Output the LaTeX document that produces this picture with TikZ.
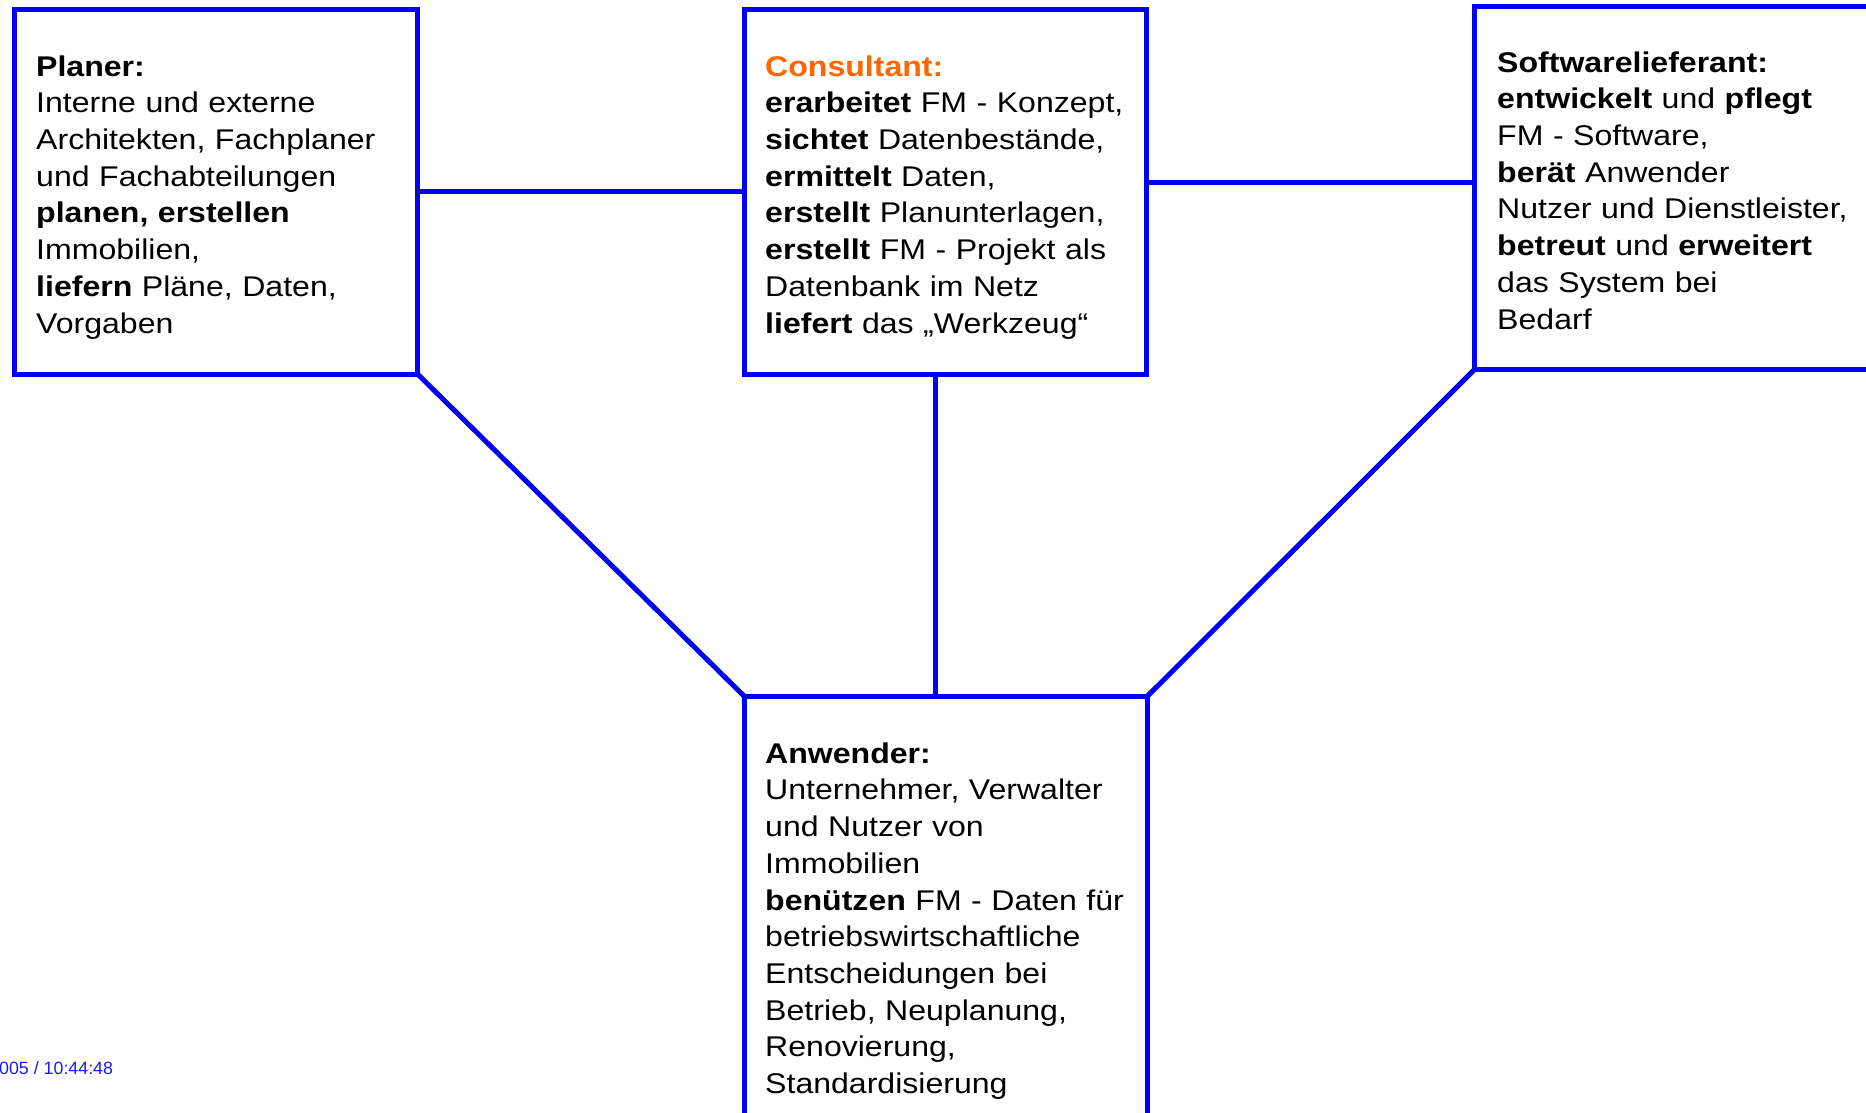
\documentclass[tikz,border=0pt]{standalone}
\usepackage{fontspec}
\setmainfont{Liberation Sans}[FakeStretch=1.125]
\newfontfamily\stampfont{Liberation Sans}
\usetikzlibrary{calc}
\definecolor{boxblue}{RGB}{0,0,245}
\definecolor{consorange}{RGB}{255,102,0}
\definecolor{stampblue}{RGB}{25,25,255}
\begin{document}
\begin{tikzpicture}[x=1pt,y=-1pt,
  box/.style={draw=boxblue, line width=5pt, rectangle, outer sep=0pt, inner sep=0pt},
  conn/.style={draw=boxblue, line width=5pt},
  txt/.style={anchor=north west, inner sep=0pt, align=left, text width=440pt,
    font=\fontsize{28.5}{36.7}\selectfont}]
\useasboundingbox (0,0) rectangle (1866,1113);
% boxes
\node[box, minimum width=403pt, minimum height=364.5pt] (planer) at (216,191.75) {};
\node[box, minimum width=402pt, minimum height=364.5pt] (consultant) at (945.5,191.75) {};
\node[box, minimum width=425.5pt, minimum height=363pt] (software) at (1687.25,188) {};
\node[box, minimum width=402.5pt, minimum height=443.5pt] (anwender) at (945.75,918.25) {};
% connectors
\draw[conn] (planer.east) -- (consultant.west);
\draw[conn] ($(software.west)+(0,-6)$) coordinate (cs) -- (cs -| consultant.east);
\draw[conn] ($(consultant.south)+(-10,0)$) coordinate (cv) -- (cv |- anwender.north);
\draw[conn] (planer.south east) -- (anwender.north west);
\draw[conn] (software.south west) -- (anwender.north east);
% texts
\node[txt] (planertext) at (36,51) {\rule{0pt}{25pt}\textbf{Planer:}\\
Interne und externe\\
Architekten, Fachplaner\\
und Fachabteilungen\\
\textbf{planen, erstellen}\\
Immobilien,\\
\textbf{liefern} Pläne, Daten,\\
Vorgaben};
\node[txt] (consultanttext) at (765,51) {\rule{0pt}{25pt}\textbf{\color{consorange}Consultant:}\\
\textbf{erarbeitet} FM - Konzept,\\
\textbf{sichtet} Datenbestände,\\
\textbf{ermittelt} Daten,\\
\textbf{erstellt} Planunterlagen,\\
\textbf{erstellt} FM - Projekt als\\
Datenbank im Netz\\
\textbf{liefert} das „Werkzeug“};
\node[txt] (softwaretext) at (1497,47) {\rule{0pt}{25pt}\textbf{Softwarelieferant:}\\
\textbf{entwickelt} und \textbf{pflegt}\\
FM - Software,\\
\textbf{berät} Anwender\\
Nutzer und Dienstleister,\\
\textbf{betreut} und \textbf{erweitert}\\
das System bei\\
Bedarf};
\node[txt] (anwendertext) at (765,738) {\rule{0pt}{25pt}\textbf{Anwender:}\\
Unternehmer, Verwalter\\
und Nutzer von\\
Immobilien\\
\textbf{benützen} FM - Daten für\\
betriebswirtschaftliche\\
Entscheidungen bei\\
Betrieb, Neuplanung,\\
Renovierung,\\
Standardisierung};
\node[anchor=base west, inner sep=0pt, font=\stampfont\fontsize{17.8}{20}\selectfont, text=stampblue] (stamp) at (-1,1074) {005 / 10:44:48};
\end{tikzpicture}
\end{document}
